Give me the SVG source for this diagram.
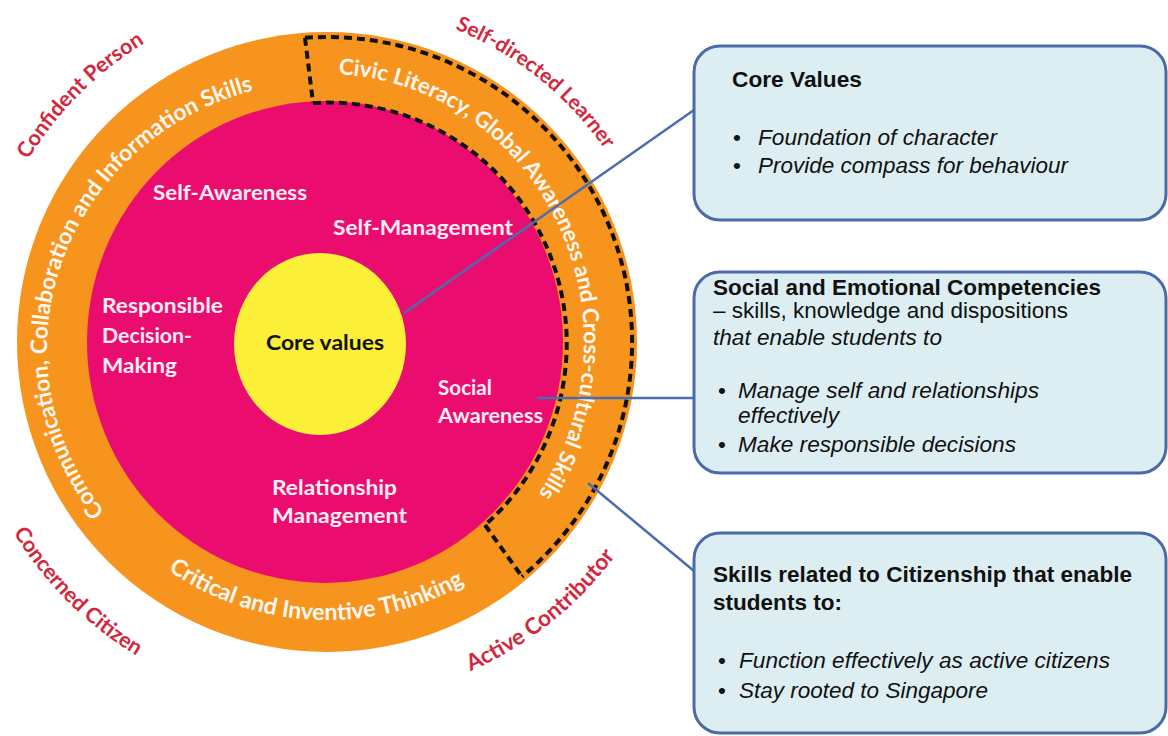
<svg xmlns="http://www.w3.org/2000/svg" width="1168" height="736" viewBox="0 0 1168 736">
<style>
.band{font-family:Lato,"Open Sans","Liberation Sans",sans-serif;font-weight:700;fill:#fff8f2}
.red{font-family:Lato,"Open Sans","Liberation Sans",sans-serif;font-weight:700;fill:#d4273c;font-size:21.5px}
.inner{font-family:Lato,"Open Sans","Liberation Sans",sans-serif;font-weight:700;fill:#fdeef4;font-size:20px}
.box{fill:#ddeef3;stroke:#4a6aa8;stroke-width:3}
.bt{font-family:"Liberation Sans",Arial,sans-serif;font-size:22.5px;fill:#111}
.b{font-weight:700}
.i{font-style:italic}
.conn{stroke:#4a6db0;stroke-width:2.5;fill:none}
.dash{stroke:#111;stroke-width:4;stroke-dasharray:8 5;fill:none}
</style>
<defs>
<path id="pComm" d="M152.7,558.7 A280,268 0 0 1 319.7,81.1"/>
<path id="pCivic" d="M275.3,79.5 A257,268 0 0 1 497.6,542.4"/>
<path id="pCrit" d="M121.7,529.5 A278,278 0 0 0 514.5,547.3"/>
<path id="pConf" d="M-11.1,251.4 A350,350 0 0 1 236.4,3.9"/>
<path id="pSelf" d="M378.4,7.9 A338,338 0 0 1 642,219.5"/>
<path id="pConc" d="M-27.5,437 A367,367 0 0 0 232,696.5"/>
<path id="pAct" d="M380.1,697.1 A359,359 0 0 0 661,473.6"/>
</defs>
<rect width="1168" height="736" fill="#fff"/>

<g id="ring-outer">
<circle cx="327" cy="342" r="310" fill="#f7941e"/>
</g>
<g id="ring-sec">
<ellipse cx="325" cy="342" rx="238" ry="241" fill="#ea0d6f"/>
</g>
<g id="core">
<ellipse cx="320" cy="344" rx="86" ry="91" fill="#fbef37"/>
<text x="266" y="350" textLength="118" lengthAdjust="spacingAndGlyphs" style="font-family:Lato,'Open Sans',sans-serif;font-weight:700;font-size:21px;fill:#111">Core values</text>
</g>
<g id="citizenship-band">
<path class="dash" d="M305,37.8 A305,305 0 0 1 522,576.6"/>
<path class="dash" d="M313,103 A239,241 0 0 1 485,525"/>
<path class="dash" d="M305,37.8 L313,103"/>
<path class="dash" d="M485,525 L522,576.6"/>
<text class="band" style="font-size:22.3px"><textPath href="#pCivic" startOffset="50%" text-anchor="middle">Civic Literacy, Global Awareness and Cross-cultural Skills</textPath></text>
</g>
<g id="band-comm">
<text class="band" style="font-size:22.7px"><textPath href="#pComm" startOffset="50%" text-anchor="middle">Communication, Collaboration and Information Skills</textPath></text>
</g>
<g id="band-crit">
<text class="band" style="font-size:23.2px"><textPath href="#pCrit" startOffset="50%" text-anchor="middle">Critical and Inventive Thinking</textPath></text>
</g>
<g id="sec-labels">
<text class="inner" x="153" y="200" textLength="154" lengthAdjust="spacingAndGlyphs">Self-Awareness</text>
<text class="inner" x="333" y="235" textLength="180" lengthAdjust="spacingAndGlyphs">Self-Management</text>
<text class="inner" x="102" y="313" textLength="121" lengthAdjust="spacingAndGlyphs">Responsible</text>
<text class="inner" x="102" y="343" textLength="90" lengthAdjust="spacingAndGlyphs">Decision-</text>
<text class="inner" x="102" y="373" textLength="75" lengthAdjust="spacingAndGlyphs">Making</text>
<text class="inner" x="438" y="395" textLength="54" lengthAdjust="spacingAndGlyphs">Social</text>
<text class="inner" x="438" y="423" textLength="105" lengthAdjust="spacingAndGlyphs">Awareness</text>
<text class="inner" x="272" y="495" textLength="125" lengthAdjust="spacingAndGlyphs">Relationship</text>
<text class="inner" x="272" y="523" textLength="135" lengthAdjust="spacingAndGlyphs">Management</text>
</g>
<g id="outcomes">
<text class="red"><textPath href="#pConf" startOffset="50%" text-anchor="middle">Confident Person</textPath></text>
<text class="red" style="font-size:20.8px"><textPath href="#pSelf" startOffset="50%" text-anchor="middle">Self-directed Learner</textPath></text>
<text class="red"><textPath href="#pConc" startOffset="50%" text-anchor="middle">Concerned Citizen</textPath></text>
<text class="red" style="font-size:22.5px"><textPath href="#pAct" startOffset="50%" text-anchor="middle">Active Contributor</textPath></text>
</g>

<g id="connectors">
<line class="conn" x1="404" y1="313" x2="694" y2="110"/>
<line class="conn" x1="537" y1="398" x2="694" y2="398"/>
<line class="conn" x1="588" y1="483" x2="694" y2="571"/>
</g>

<g id="box-core">
<rect class="box" x="694" y="46" width="472" height="174" rx="26"/>
<text class="bt b" x="732" y="87" textLength="130" lengthAdjust="spacingAndGlyphs">Core Values</text>
<text class="bt" x="733" y="145">•</text>
<text class="bt i" x="758" y="145" textLength="239" lengthAdjust="spacingAndGlyphs">Foundation of character</text>
<text class="bt" x="733" y="173">•</text>
<text class="bt i" x="758" y="173" textLength="310" lengthAdjust="spacingAndGlyphs">Provide compass for behaviour</text>
</g>
<g id="box-sec">
<rect class="box" x="694" y="272" width="472" height="201" rx="26"/>
<text class="bt b" x="713" y="295" textLength="388" lengthAdjust="spacingAndGlyphs">Social and Emotional Competencies</text>
<text class="bt" x="713" y="318" textLength="355" lengthAdjust="spacingAndGlyphs">– skills, knowledge and dispositions</text>
<text class="bt i" x="713" y="345" textLength="229" lengthAdjust="spacingAndGlyphs">that enable students to</text>
<text class="bt" x="718" y="398">•</text>
<text class="bt i" x="738" y="398" textLength="301" lengthAdjust="spacingAndGlyphs">Manage self and relationships</text>
<text class="bt i" x="738" y="423" textLength="101" lengthAdjust="spacingAndGlyphs">effectively</text>
<text class="bt" x="718" y="452">•</text>
<text class="bt i" x="738" y="452" textLength="278" lengthAdjust="spacingAndGlyphs">Make responsible decisions</text>
</g>
<g id="box-cit">
<rect class="box" x="694" y="533" width="472" height="200" rx="26"/>
<text class="bt b" x="713" y="582" textLength="419" lengthAdjust="spacingAndGlyphs">Skills related to Citizenship that enable</text>
<text class="bt b" x="713" y="610" textLength="129" lengthAdjust="spacingAndGlyphs">students to:</text>
<text class="bt" x="718" y="668">•</text>
<text class="bt i" x="739" y="668" textLength="371" lengthAdjust="spacingAndGlyphs">Function effectively as active citizens</text>
<text class="bt" x="718" y="698">•</text>
<text class="bt i" x="739" y="698" textLength="249" lengthAdjust="spacingAndGlyphs">Stay rooted to Singapore</text>
</g>
</svg>
